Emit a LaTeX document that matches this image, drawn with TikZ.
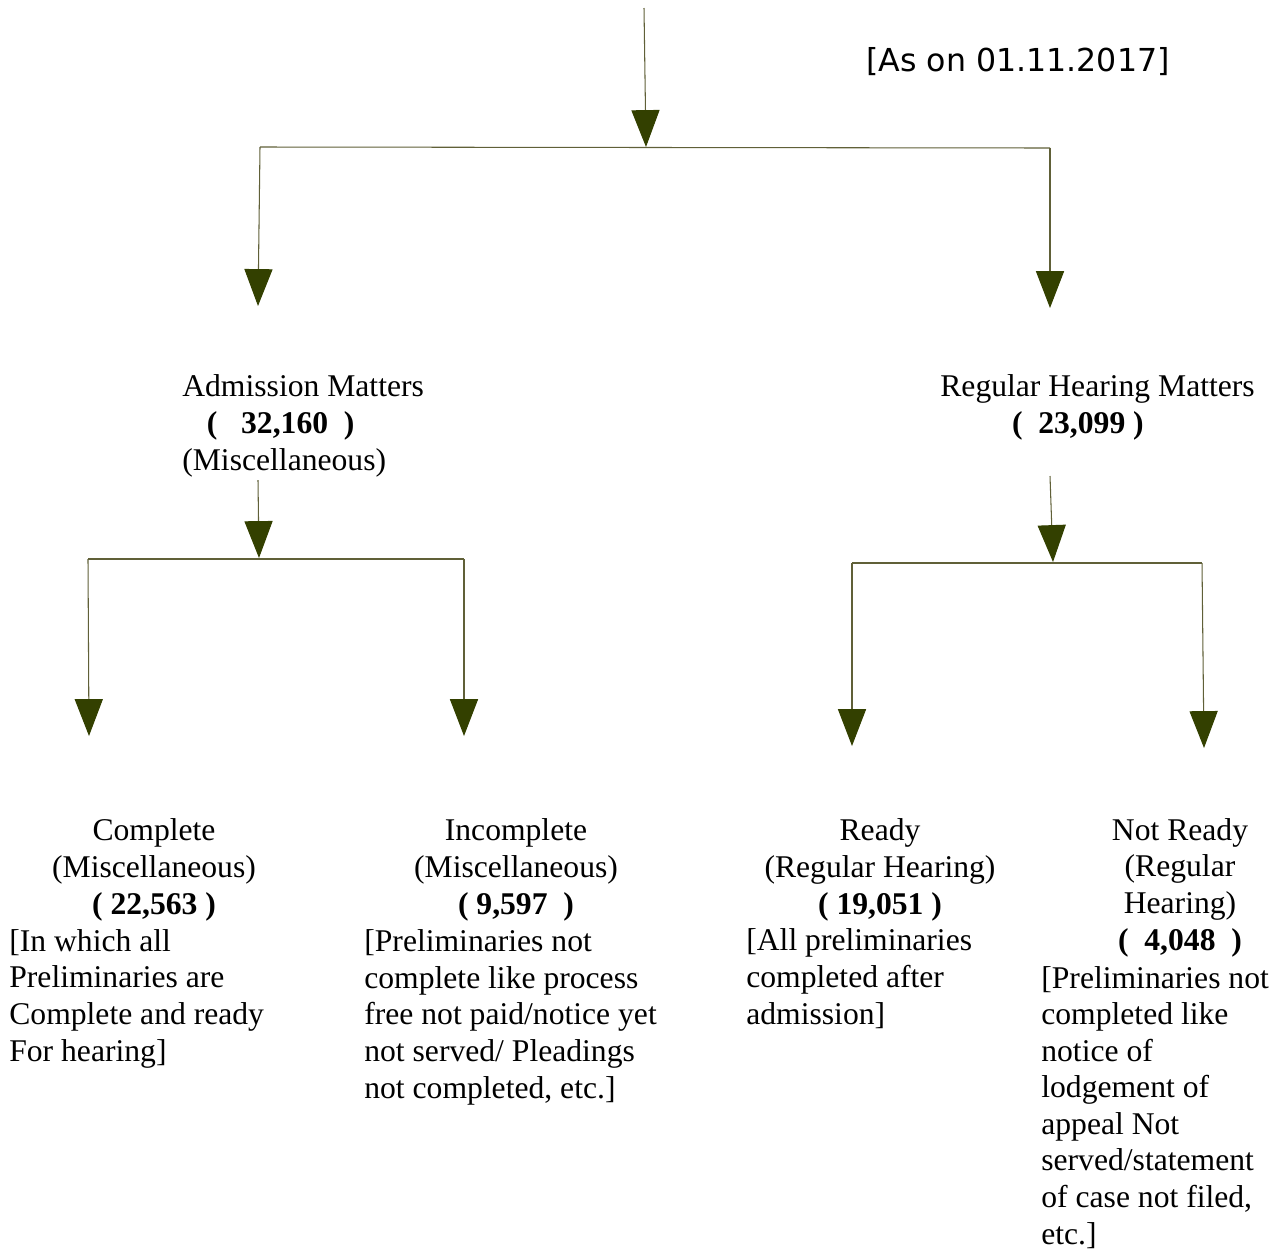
\documentclass[tikz,border=0pt]{standalone}
\usepackage{fontspec}
\setmainfont{Liberation Serif}
\newfontfamily\datefont{DejaVu Sans}
\usetikzlibrary{arrows.meta}
\definecolor{viivavari}{RGB}{96,96,56}
\definecolor{karki}{RGB}{51,64,0}

\begin{document}
\begin{tikzpicture}[x=0.02cm,y=-0.02cm,
  otsikko/.style={align=center,anchor=base,inner sep=0pt},
  selite/.style={align=left,anchor=base west,inner sep=0pt},
  viiva/.style={draw=viivavari,line width=0.6pt},
  nuoli/.style={viiva,-{Triangle[width=16pt,length=21pt,color=karki,fill=karki]}}]
\fontsize{18}{20.8}\selectfont
\useasboundingbox (0,0) rectangle (1284,1248);
\node[anchor=base,inner sep=0pt] (pvm) at (1018,71) {\datefont [As on 01.11.2017]};
% ylataso (ankkuri = viimeisen rivin perusviiva)
\node[selite] (adm) at (182,470) {Admission Matters\\\hspace*{14pt}\textbf{(~~~32,160~~)}\\(Miscellaneous)};
\node[selite] (reg) at (940,433) {Regular Hearing Matters\\\hspace*{40.8pt}\textbf{(~~23,099~)}};
% alataso
\node[otsikko] (comp) at (154,914) {Complete\\(Miscellaneous)\\\textbf{(~22,563~)}};
\node[selite] (compS) at (9,1061) {[In which all\\Preliminaries are\\Complete and ready\\For hearing]};
\node[otsikko] (incomp) at (516,914) {Incomplete\\(Miscellaneous)\\\textbf{(~9,597~~)}};
\node[selite] (incompS) at (364,1098) {[Preliminaries not\\complete like process\\free not paid/notice yet\\not served/ Pleadings\\not completed, etc.]};
\node[otsikko] (ready) at (880,914) {Ready\\(Regular Hearing)\\\textbf{(~19,051~)}};
\node[selite] (readyS) at (746,1024) {[All preliminaries\\completed after\\admission]};
\node[otsikko] (nready) at (1180,950) {Not Ready\\(Regular\\Hearing)\\\textbf{(~~4,048~~)}};
\node[selite] (nreadyS) at (1041,1244) {[Preliminaries not\\completed like\\notice of\\lodgement of\\appeal Not\\served/statement\\of case not filed,\\etc.]};
% haarat
\coordinate (alku) at (644,8);
\coordinate (haara) at (646,147);
\coordinate (v1) at (260,147);
\coordinate (o1) at (1050,148);
\coordinate (v1k) at (258,306);
\coordinate (o1k) at (1050,308);
\path[nuoli] (alku) -- (haara);
\path[viiva] (v1) -- (o1);
\path[nuoli] (v1) -- (v1k);
\path[nuoli] (o1) -- (o1k);
\coordinate (a0) at (258,480);
\coordinate (a1) at (259,558);
\coordinate (a2) at (88,559);
\coordinate (a3) at (464,559);
\coordinate (a2k) at (89,736);
\coordinate (a3k) at (464,736);
\path[nuoli] (a0) -- (a1);
\path[viiva] (a2) -- (a3);
\path[nuoli] (a2) -- (a2k);
\path[nuoli] (a3) -- (a3k);
\coordinate (r0) at (1050,476);
\coordinate (r1) at (1053,562);
\coordinate (r2) at (852,563);
\coordinate (r3) at (1202,563);
\coordinate (r2k) at (852,746);
\coordinate (r3k) at (1204,748);
\path[nuoli] (r0) -- (r1);
\path[viiva] (r2) -- (r3);
\path[nuoli] (r2) -- (r2k);
\path[nuoli] (r3) -- (r3k);
\end{tikzpicture}
\end{document}
